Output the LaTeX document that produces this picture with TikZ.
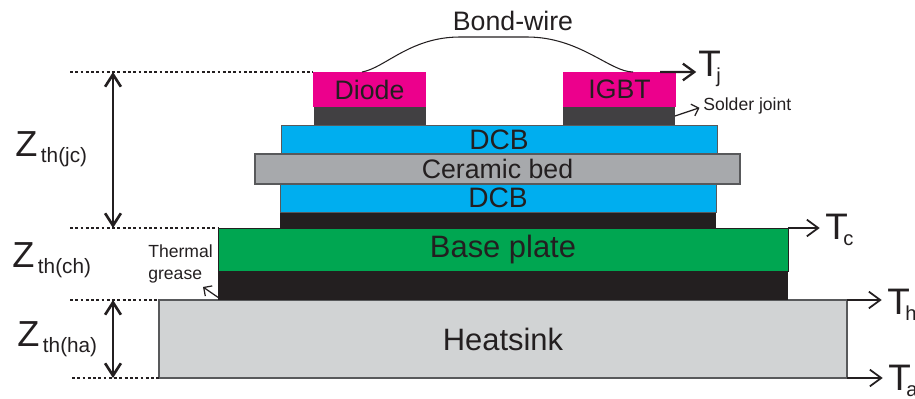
\documentclass[tikz,border=0pt]{standalone}
\usepackage{fontspec}
\setmainfont{Liberation Sans}
\usetikzlibrary{arrows.meta}
\definecolor{inkblack}{HTML}{231F20}
\definecolor{solder}{HTML}{414042}
\definecolor{chipred}{HTML}{EC008C}
\definecolor{dcbblue}{HTML}{00AEEF}
\definecolor{bedgray}{HTML}{A7A9AC}
\definecolor{basegreen}{HTML}{00A651}
\definecolor{sinkgray}{HTML}{D1D3D4}
\definecolor{edgegray}{HTML}{58595B}
\newcommand{\subtxt}[1]{\raisebox{-3.4pt}{\fontsize{11.8}{13}\selectfont #1}}
\newcommand{\subtmp}[1]{\kern-2.6pt\raisebox{-3.4pt}{\fontsize{11.5}{13}\selectfont #1}}
\begin{document}
\begin{tikzpicture}[y=-1cm,>={Straight Barb[length=6.5pt,width=9.5pt]},
	layer/.style n args={3}{rectangle,inner sep=0pt,outer sep=0pt,text=inkblack,font=\fontsize{15.2}{18}\selectfont,
		minimum width={#1*0.02cm},minimum height={#2*0.02cm},fill=#3},
	bigtext/.style={font=\fontsize{17.6}{20}\selectfont},
	dcbtext/.style={font=\fontsize{16}{18}\selectfont},
	edged/.style={draw=edgegray,line width=0.6pt},
	zlabel/.style={anchor=base west,inner sep=0pt,text=inkblack,font=\fontsize{20.6}{24}\selectfont},
	tlabel/.style={anchor=base west,inner sep=0pt,text=inkblack,font=\fontsize{21}{24}\selectfont},
	note/.style={inner sep=0pt,text=inkblack,font=\fontsize{10}{12.4}\selectfont},
	dots/.style={inkblack,line width=1.5pt,dash pattern=on 1.6pt off 1.4pt},
	dim/.style={<->,>={Straight Barb[length=7pt,width=9pt]},inkblack,line width=1.5pt},
	tarrow/.style={->,inkblack,line width=1pt}]
\def\s{0.02}
\useasboundingbox (0,0) rectangle ({915*\s},{399*\s});
% stack
\node[layer={688}{78}{sinkgray},edged,bigtext] (heatsink) at ({503*\s},{339*\s}) {Heatsink};
\node[layer={570}{29}{inkblack}] (grease) at ({503*\s},{285.5*\s}) {};
\node[layer={570}{43}{basegreen},bigtext,draw=inkblack,line width=0.4pt] (base) at ({503*\s},{249.5*\s}) {Base plate};
\node[layer={436}{16}{inkblack}] (dcbsolder) at ({498*\s},{220*\s}) {};
\node[layer={436}{28}{dcbblue},dcbtext,draw=edgegray,line width=0.4pt] (dcblow) at ({498*\s},{198*\s}) {DCB};
\node[layer={436}{29}{dcbblue},dcbtext,draw=edgegray,line width=0.4pt] (dcbtop) at ({499*\s},{139.5*\s}) {DCB};
\node[layer={485}{30}{bedgray},edged] (ceramic) at ({497.5*\s},{169*\s}) {Ceramic bed};
% chips
\node[layer={112}{18}{solder}] (diodesolder) at ({370*\s},{116*\s}) {};
\node[layer={112}{18}{solder}] (igbtsolder) at ({619*\s},{116*\s}) {};
\node[layer={113}{35}{chipred}] (diode) at ({369.5*\s},{89.5*\s}) {Diode};
\node[layer={113}{35}{chipred}] (igbt) at ({619.5*\s},{89.5*\s}) {IGBT};
% labels
\node[layer={1}{1}{white},fill=none] (bond) at ({513*\s},{21*\s}) {Bond-wire};
\node[note,anchor=west] (joint) at ({703*\s},{106*\s}) {Solder joint};
\node[note,anchor=west,align=left] (thermal) at ({148*\s},{264*\s}) {Thermal\\grease};
\node[zlabel] (zjc) at ({15*\s},{157*\s}) {Z\kern2pt\subtxt{th(jc)}};
\node[zlabel] (zch) at ({12*\s},{268*\s}) {Z\kern2pt\subtxt{th(ch)}};
\node[zlabel] (zha) at ({17*\s},{347*\s}) {Z\kern2pt\subtxt{th(ha)}};
\node[tlabel] (tj) at ({698*\s},{77*\s}) {T\subtmp{j}};
\node[tlabel] (tc) at ({825*\s},{240*\s}) {T\subtmp{c}};
\node[tlabel] (th) at ({887*\s},{315*\s}) {T\subtmp{h}};
\node[tlabel] (ta) at ({888*\s},{391*\s}) {T\subtmp{a}};
% free ends
\coordinate (dotjc) at ({70*\s},0);
\coordinate (dotha) at ({72*\s},0);
\coordinate (dimx) at ({113*\s},0);
\coordinate (wirel) at ({362*\s},{72*\s});
\coordinate (wirem) at ({460*\s},{37*\s});
\coordinate (wiren) at ({527*\s},{37*\s});
\coordinate (wirer) at ({633*\s},{72*\s});
\coordinate (tjstart) at ({660*\s},{72*\s});
\coordinate (greasetip) at ({203*\s},{287*\s});
% dotted levels
\draw[dots] (dotjc |- diode.north) -- (diode.north west);
\draw[dots] (dotjc |- base.north) -- (base.north west);
\draw[dots] (dotjc |- heatsink.north) -- (heatsink.north west);
\draw[dots] (dotha |- heatsink.south) -- (heatsink.south west);
% dimensions
\draw[dim] (dimx |- diode.north) -- (dimx |- base.north);
\draw[dim] (dimx |- heatsink.north) -- (dimx |- heatsink.south);
% bond wire
\draw[inkblack,line width=0.6pt] (wirel) .. controls ({385*\s},{68*\s}) and ({410*\s},{37*\s}) .. (wirem) -- (wiren) .. controls ({580*\s},{37*\s}) and ({610*\s},{72*\s}) .. (wirer);
% temperatures
\draw[tarrow,line width=1.3pt] (tjstart) -- ([xshift=-1pt]tj.west |- igbt.north);
\draw[tarrow] (base.north east) -- ([xshift=-3pt]tc.west |- base.north);
\draw[tarrow] (heatsink.north east) -- ([xshift=-3pt]th.west |- heatsink.north);
\draw[tarrow] (heatsink.south east) -- ([xshift=-3pt]ta.west |- heatsink.south);
% notes
\draw[->,inkblack,line width=0.7pt,>={Straight Barb[length=3.5pt,width=7pt]}] (igbtsolder.east) -- ([xshift=-2pt,yshift=-1pt]joint.west);
\draw[->,inkblack,line width=0.7pt,>={Straight Barb[length=3.5pt,width=7pt]}] ([yshift=1.5pt]grease.south west) -- (greasetip);
\end{tikzpicture}
\end{document}
